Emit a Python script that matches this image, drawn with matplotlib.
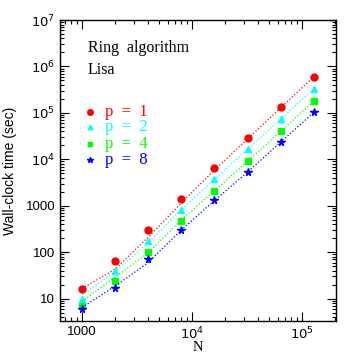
import math
import matplotlib
matplotlib.use('Agg')
import matplotlib.pyplot as plt
from matplotlib.ticker import LogLocator, FuncFormatter, NullFormatter, FixedLocator

# problem size
N = [1000, 2000, 4000, 8000, 16000, 32000, 64000, 128000]

# measured wall-clock times (sec)
t_p1 = [15.9, 65.6, 300, 1390, 6460, 28900, 132000, 603000]
t_p2 = [10.0, 40.0, 174, 807, 3700, 16300, 74300, 328000]
t_p4 = [7.0, 24.0, 102, 469, 2100, 9020, 39800, 178000]
t_p8 = [6.0, 17.3, 70, 305, 1306, 5310, 23400, 102000]

# model curves (dotted)
m_p1 = [16.5, 43, 210, 1140, 5900, 27500, 128000, 600000]
m_p2 = [12.0, 38, 160, 820, 3700, 16300, 74000, 328000]
m_p4 = [8.6, 29, 97, 500, 2100, 9000, 40000, 178000]
m_p8 = [6.5, 18.5, 60, 300, 1300, 5300, 23400, 102000]

labels = ['p  =  1', 'p  =  2', 'p  =  4', 'p  =  8']
colors = ['#ff0000', '#00ffff', '#00ff00', '#0000ff']
markers = ['o', '^', 's', '*']
msizes = [5.0, 4.2, 3.8, 5.5]

xticks = [1000, 1e4, 1e5]
yticks = [10, 100, 1000, 1e4, 1e5, 1e6, 1e7]

serif = ['Liberation Serif', 'DejaVu Serif']
sans = ['Liberation Sans', 'DejaVu Sans']

fig = plt.figure(figsize=(3.54, 3.54), dpi=100)
ax = fig.add_axes([60 / 354, 33 / 354, 276 / 354, 301 / 354])

for t, m, c, mk, ms in zip([t_p1, t_p2, t_p4, t_p8], [m_p1, m_p2, m_p4, m_p8],
                           colors, markers, msizes):
    ax.plot(N, m, ls=':', color=c, lw=0.9)
    ax.plot(N, t, ls='none', marker=mk, color=c, ms=ms, mec=c)

ax.set_xscale('log')
ax.set_yscale('log')
ax.set_xlim(631, 2.04e5)
ax.set_ylim(3.3, 1e7)


def fmt(v, pos):
    if v <= 1000:
        return '%d' % round(v)
    return r'$10^{%d}$' % int(round(math.log10(v)))


for axis, tk in ((ax.xaxis, xticks), (ax.yaxis, yticks)):
    axis.set_major_locator(FixedLocator(tk))
    axis.set_minor_locator(LogLocator(base=10, subs=range(2, 10), numticks=50))
    axis.set_major_formatter(FuncFormatter(fmt))
    axis.set_minor_formatter(NullFormatter())

ax.tick_params(which='both', direction='in', top=True, right=True, width=0.8)
ax.tick_params(which='major', length=6.5, labelsize=9.5)
ax.tick_params(which='minor', length=3)
for lab in ax.get_xticklabels() + ax.get_yticklabels():
    lab.set_family(sans)
for s in ax.spines.values():
    s.set_linewidth(1.0)

ax.set_xlabel('N', family=serif, fontsize=10.5, labelpad=-1)
ax.set_ylabel('Wall-clock time (sec)', family=sans, fontsize=10, labelpad=6)

ax.text(0.101, 0.907, 'Ring  algorithm', transform=ax.transAxes, family=serif,
        fontsize=11.5, va='center', ha='left')
ax.text(0.101, 0.834, 'Lisa', transform=ax.transAxes, family=serif,
        fontsize=11.5, va='center', ha='left')

rows = [0.694, 0.645, 0.587, 0.535]
for y, lab, c, mk, ms in zip(rows, labels, colors, markers, msizes):
    ax.plot([0.109], [y], transform=ax.transAxes, marker=mk, color=c,
            ms=ms * 0.8, ls='none', mec=c)
    ax.text(0.163, y, lab, transform=ax.transAxes, color=c, family=serif,
            fontsize=12, va='center', ha='left')

fig.savefig('out.png', dpi=100)
